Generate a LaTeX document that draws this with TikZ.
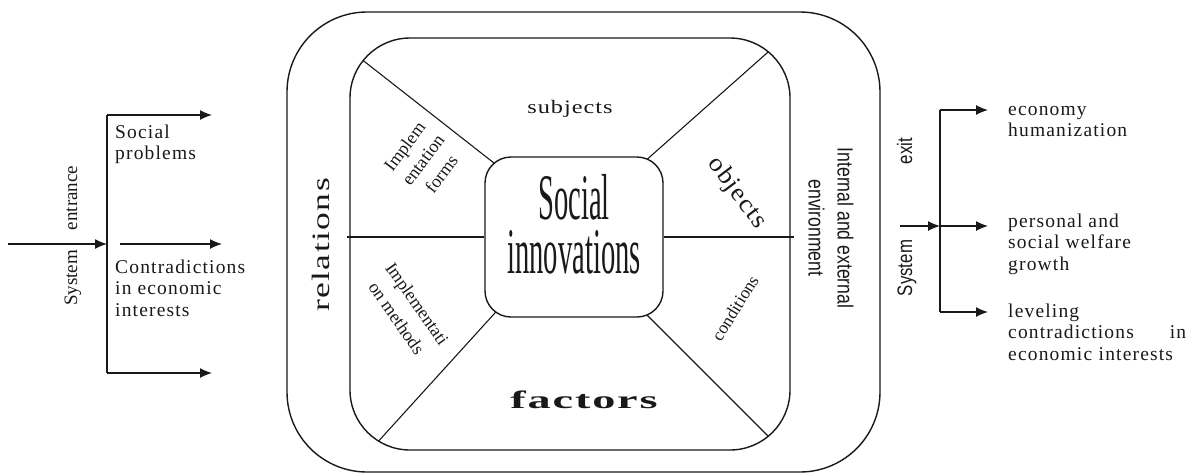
\documentclass[tikz,border=0pt]{standalone}
\usepackage{fontspec}
\setmainfont{Liberation Serif}
\newfontfamily\sidefont[LetterSpace=6]{Liberation Serif}
\newfontfamily\spacedfont[LetterSpace=4]{Liberation Serif}
\newfontfamily\arialfont{Liberation Sans}
\usetikzlibrary{arrows.meta}
\newcommand\ascfix{\vphantom{lhd}}
\begin{document}
\begin{tikzpicture}[x=1pt,y=-1pt,
  line/.style={draw=black!90, line width=1.3pt},
  arr/.style={line, -{Latex[length=12pt,width=10pt]}},
  frame/.style={draw=black!90, line width=1.4pt, inner sep=0pt},
  lbl/.style={inner sep=0pt, text=black!90},
  sidetext/.style={lbl, font=\sidefont\fontsize{19.5}{21.5}\selectfont},
]
\useasboundingbox (0,0) rectangle (1193,475);

% frames
\node[frame, rounded corners=80pt, minimum width=593pt, minimum height=460pt] (outer) at (583.5,242) {};
\node[frame, rounded corners=60pt, minimum width=440pt, minimum height=412pt] (inner) at (570,244) {};

% dividers
\begin{scope}
  \clip[rounded corners=60pt] (350,38) rectangle (790,450);
  \draw[line, line width=1.1pt] (508,174) -- (345.5,46.7);
  \draw[line, line width=1.1pt] (638,167.4) -- (785,37);
  \draw[line, line width=1.1pt] (504,303) -- (365,456);
  \draw[line, line width=1.1pt] (635,303) -- (783,451);
\end{scope}

\node[frame, fill=white, rounded corners=26pt, minimum width=178pt, minimum height=160pt] (core) at (574,237) {};
\draw[line, line width=1.1pt] (core.west) -- ++(-137,0);
\draw[line, line width=1.1pt] (core.east) -- ++(130,0);

% core text
\node[lbl, anchor=north, align=center, font=\fontsize{65}{54}\selectfont] (coretxt) at (574,174)
  {\scalebox{0.44}[1]{Social}\\\scalebox{0.44}[1]{innovations}};

% sector labels
\node[lbl, anchor=base, font=\spacedfont\fontsize{19}{22}\selectfont] (subj) at (570,113) {\scalebox{1.28}[1]{subjects}};
\node[lbl, anchor=base, rotate=90, font=\spacedfont\fontsize{25}{28}\selectfont] (rel) at (329,245) {\scalebox{1.42}[1]{relations}};
\node[lbl, anchor=base, font=\spacedfont\bfseries\fontsize{25}{28}\selectfont] (fact) at (584,408) {\scalebox{1.85}[1]{factors}};
\node[lbl, rotate=53, align=center, font=\fontsize{18}{23}\selectfont] (forms) at (423,160) {Implem\\entation\\forms};
\node[lbl, rotate=-55, align=center, font=\fontsize{18}{25}\selectfont] (meth) at (407,311) {Implementati\\on methods};
\node[lbl, rotate=-53, font=\spacedfont\fontsize{25}{28}\selectfont] (obj) at (737,193) {\scalebox{1.08}[1]{objects}};
\node[lbl, rotate=58, font=\fontsize{17.5}{20}\selectfont] (cond) at (735,308) {conditions};
\node[lbl, rotate=-90, align=center, font=\arialfont\fontsize{22}{29}\selectfont] (env) at (831,228)
  {\scalebox{0.8}[1]{Internal and external}\\\scalebox{0.8}[1]{environment}};

% left: system entrance
\coordinate (lIn) at (8,244);
\coordinate (lT) at (107,115);
\coordinate (lJ) at (107,244);
\coordinate (lB) at (107,373);
\coordinate (lOut) at (120,244);
\draw[line] (lT) -- (lB);
\draw[arr] (lIn) -- (lJ);
\draw[arr] (lT) -- ++(105,0);
\draw[arr] (lOut) -- ++(102,0);
\draw[arr] (lB) -- ++(105,0);
\node[lbl, anchor=base, rotate=90, font=\fontsize{19}{22}\selectfont] (sysL) at (77,278) {System};
\node[lbl, anchor=base, rotate=90, font=\fontsize{19}{22}\selectfont] (entr) at (77,198) {entrance};
\node[sidetext, anchor=north west, align=left] (sp) at (115,124.7) {\ascfix Social\\problems};
\node[sidetext, anchor=north west, align=left] (ce) at (115,259.7) {\ascfix Contradictions\\in economic\\interests};

% right: system exit
\coordinate (rIn) at (900,226);
\coordinate (rT) at (940,110);
\coordinate (rJ) at (940,226);
\coordinate (rB) at (940,312);
\draw[line] (rT) -- (rB);
\draw[arr] (rIn) -- (rJ);
\draw[arr] (rT) -- ++(48,0);
\draw[arr] (rJ) -- ++(48,0);
\draw[arr] (rB) -- ++(48,0);
\node[lbl, anchor=base, rotate=90, font=\arialfont\fontsize{21}{24}\selectfont] (sysR) at (912,268) {\scalebox{0.8}[1]{System}};
\node[lbl, anchor=base, rotate=90, font=\arialfont\fontsize{21}{24}\selectfont] (exit) at (912,151) {\scalebox{0.8}[1]{exit}};
\node[sidetext, anchor=north west, align=left] (eh) at (1008,101.7) {\ascfix economy\\humanization};
\node[sidetext, anchor=north west, align=left] (pw) at (1008,213.7) {\ascfix personal and\\social welfare\\growth};
\node[sidetext, anchor=north west, align=left, text width=178pt] (lc) at (1008,303.7) {\ascfix leveling\\contradictions \hfill in\\economic interests};
\end{tikzpicture}
\end{document}
